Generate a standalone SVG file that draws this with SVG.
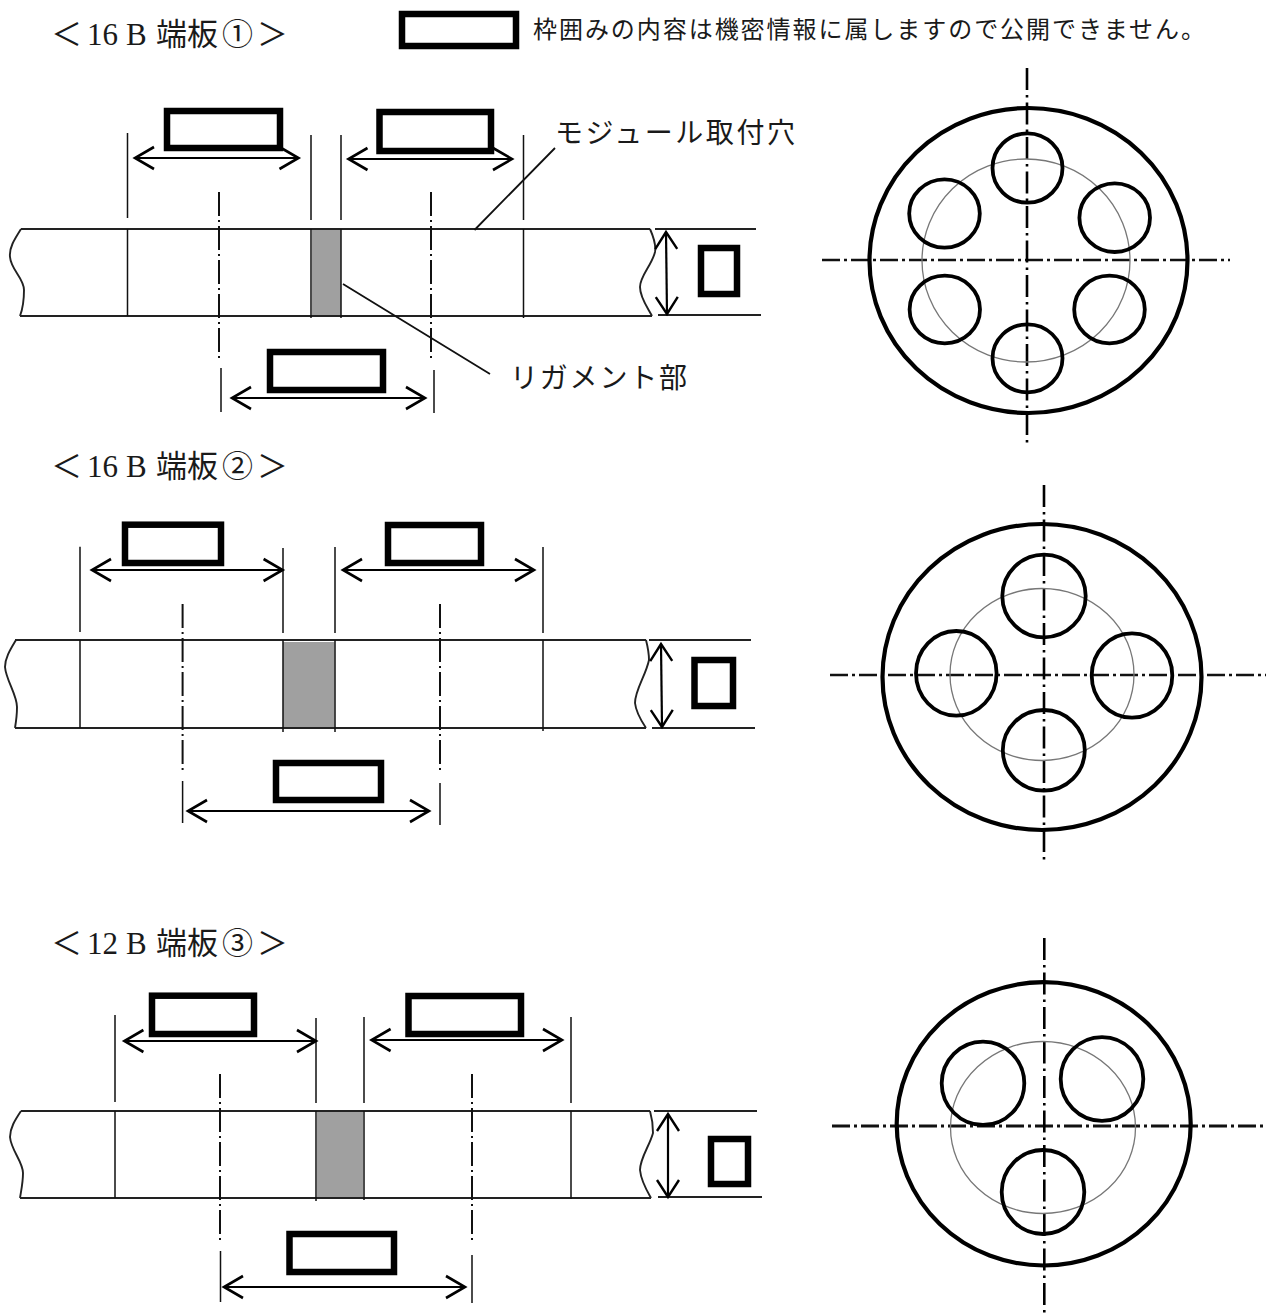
<svg xmlns="http://www.w3.org/2000/svg" width="1281" height="1314" viewBox="0 0 1281 1314">
<style>
.t{font-family:"Liberation Serif","Noto Sans CJK JP",serif;fill:#1a1a1a}
.title{font-size:31px}
.label{font-size:28px;font-family:"Noto Sans CJK JP",sans-serif;font-weight:400;fill:#1a1a1a}
.legend{font-size:24px;font-family:"Noto Sans CJK JP",sans-serif;font-weight:400;fill:#1a1a1a}
.box{fill:#fff;stroke:#000;stroke-width:6.500}
.thin{fill:none;stroke:#111;stroke-width:1.500}
.board{fill:none;stroke:#222;stroke-width:1.900}
.cut{fill:#a0a0a0;stroke:none}
.cl{fill:none;stroke:#111;stroke-width:2;stroke-dasharray:24 4 2 4}
.clv{fill:none;stroke:#000;stroke-width:2.600;stroke-dasharray:22 5 2.500 5}
.clh{fill:none;stroke:#111;stroke-width:2.600;stroke-dasharray:18 4 3 4}
.outer{fill:none;stroke:#000;stroke-width:4.200}
.hole{fill:none;stroke:#000;stroke-width:3.800}
.pcd{fill:none;stroke:#777;stroke-width:1.300}
.dim{fill:none;stroke:#000;stroke-width:2.200;marker-start:url(#ah);marker-end:url(#ah)}
.vdim{fill:none;stroke:#000;stroke-width:2.200;marker-start:url(#av);marker-end:url(#av)}
.leader{fill:none;stroke:#111;stroke-width:1.800}
</style>
<defs>
<marker id="ah" markerUnits="userSpaceOnUse" markerWidth="44" markerHeight="44" refX="22" refY="22" orient="auto-start-reverse" viewBox="0 0 44 44"><path d="M3,11L22,22L3,33" fill="none" stroke="#000" stroke-width="2.600"/></marker>
<marker id="av" markerUnits="userSpaceOnUse" markerWidth="44" markerHeight="44" refX="22" refY="22" orient="auto-start-reverse" viewBox="0 0 44 44"><path d="M5,11L22,22L5,33" fill="none" stroke="#000" stroke-width="2.400"/></marker>
</defs>
<rect width="1281" height="1314" fill="#fff"/>

<g id="legend">
<rect class="box" x="402" y="14" width="114" height="32"/>
<text class="legend" x="533" y="38" textLength="672" lengthAdjust="spacing">枠囲みの内容は機密情報に属しますので公開できません。</text>
</g>

<g id="plate1-section">
<text class="t title" y="45"><tspan x="51">＜</tspan><tspan x="87">16</tspan><tspan x="126">B</tspan><tspan x="156">端板</tspan><tspan x="222">①</tspan><tspan x="257">＞</tspan></text>
<rect class="cut" x="312" y="229" width="29" height="87"/>
<path class="board" d="M21,229H650M20,316H652M655,229H756M658,315H761"/>
<path class="board" d="M21,229C14,240 9,248 10,257C11,270 24,278 24,290C24,300 23,308 20,316M650,229C654,238 656,246 655,252C652,265 640,276 640,287C640,298 648,308 652,316"/>
<path class="thin" d="M127.500,133V218M127.500,229V316M311,135V220M311,229V318M341,135V220M341,229V318M523.500,135V220M523.500,229V318M221,368V412M434,370V413"/>
<path class="cl" d="M219,192V358M431,192V358"/>
<rect class="box" x="167" y="111" width="113" height="37"/>
<rect class="box" x="379.500" y="112" width="111.500" height="39"/>
<rect class="box" x="270" y="352" width="113" height="38"/>
<rect class="box" x="701" y="248" width="36" height="46"/>
<text class="label" x="555" y="143" textLength="240" lengthAdjust="spacing">モジュール取付穴</text>
<text class="label" x="510" y="388" textLength="177" lengthAdjust="spacing">リガメント部</text>
</g>

<g id="plate1-front">
<path class="clh" d="M822,260H1230"/>
<path class="clv" d="M1027,68V447"/>
<ellipse class="outer" cx="1028.500" cy="260.500" rx="159" ry="152.500"/>
<ellipse class="pcd" cx="1026" cy="260.500" rx="104" ry="101.500"/>
<ellipse class="hole" cx="1027.500" cy="168" rx="35" ry="34.700"/>
<ellipse class="hole" cx="944.500" cy="213.500" rx="35.300" ry="34.200"/>
<ellipse class="hole" cx="1114.700" cy="217.700" rx="35.300" ry="34.300"/>
<ellipse class="hole" cx="944.800" cy="309.500" rx="35.200" ry="33.800"/>
<ellipse class="hole" cx="1109.500" cy="309.500" rx="35.300" ry="33.800"/>
<ellipse class="hole" cx="1027.500" cy="358.300" rx="35" ry="34"/>
</g>

<g id="plate2-section">
<text class="t title" y="477"><tspan x="51">＜</tspan><tspan x="87">16</tspan><tspan x="126">B</tspan><tspan x="156">端板</tspan><tspan x="222">②</tspan><tspan x="257">＞</tspan></text>
<rect class="cut" x="283" y="642" width="51.500" height="86"/>
<path class="board" d="M15,640H646M15,728H646M649,640H751M652,728H755"/>
<path class="board" d="M16,640C10,650 5,658 5,667C6,680 17,695 17,707C17,715 16,722 15,728M646,640C648,648 649,654 649,660C646,675 635,690 635,703C636,713 642,722 646,728"/>
<path class="thin" d="M80,546.700V632M80,640V728M283,548V633M283,640V732M335,547V633M335,640V732M543,547V633M543,640V731M182.600,781V823M440,783V825"/>
<path class="cl" d="M182.600,604V772M440,604V771"/>
<rect class="box" x="125" y="524.700" width="96" height="38.300"/>
<rect class="box" x="388" y="525" width="93" height="38"/>
<rect class="box" x="276" y="763" width="105" height="37"/>
<rect class="box" x="694.500" y="660" width="38.500" height="46"/>
</g>

<g id="plate2-front">
<path class="clh" d="M830,675H1266"/>
<path class="clv" d="M1044,485V864"/>
<ellipse class="outer" cx="1042" cy="677" rx="159.500" ry="153"/>
<ellipse class="pcd" cx="1042" cy="674.500" rx="92" ry="86"/>
<ellipse class="hole" cx="1044" cy="596" rx="41.700" ry="41.300"/>
<ellipse class="hole" cx="956.300" cy="673.300" rx="40.300" ry="42.300"/>
<ellipse class="hole" cx="1132" cy="675.500" rx="40.300" ry="42.200"/>
<ellipse class="hole" cx="1043.800" cy="750.300" rx="41" ry="40.300"/>
</g>

<g id="plate3-section">
<text class="t title" y="954"><tspan x="51">＜</tspan><tspan x="87">12</tspan><tspan x="126">B</tspan><tspan x="156">端板</tspan><tspan x="222">③</tspan><tspan x="257">＞</tspan></text>
<rect class="cut" x="317" y="1111" width="46" height="87"/>
<path class="board" d="M21,1111H650M20,1198H651M654,1111H757M658,1197H762"/>
<path class="board" d="M21,1111C15,1120 10,1128 10,1137C11,1150 23,1162 23,1173C23,1183 21,1191 20,1198M650,1111C652,1118 653,1126 653,1133C650,1145 640,1158 640,1170C641,1181 647,1191 651,1198"/>
<path class="thin" d="M115,1015V1102M115,1111V1198M316,1018V1103M316,1111V1201M364,1017V1103M364,1111V1200M571,1017V1103M571,1111V1199M220.500,1251V1302M472,1255V1303"/>
<path class="cl" d="M220,1074V1242M472,1074V1242"/>
<rect class="box" x="152" y="995.700" width="102" height="38.300"/>
<rect class="box" x="408.500" y="996" width="112.500" height="38"/>
<rect class="box" x="289.500" y="1234" width="104.500" height="38"/>
<rect class="box" x="711" y="1139" width="37" height="45"/>
</g>

<g id="plate3-front">
<path class="clh" d="M832,1126H1267" style="stroke-width:3"/>
<path class="clv" d="M1044.300,938V1314"/>
<ellipse class="outer" cx="1043.700" cy="1123.800" rx="147" ry="141.700"/>
<ellipse class="pcd" cx="1043" cy="1127.500" rx="92.500" ry="86"/>
<ellipse class="hole" cx="983" cy="1083.300" rx="41.300" ry="41.700"/>
<ellipse class="hole" cx="1102" cy="1079" rx="41.300" ry="41.800"/>
<ellipse class="hole" cx="1043" cy="1192" rx="41.300" ry="42"/>
</g>

<g id="connectors">
<path class="leader" d="M474.500,230L555,148M343,284L490,374"/>
<path class="dim" d="M135,158H298.500"/>
<path class="dim" d="M348.500,159H512"/>
<path class="dim" d="M232,398H425"/>
<path class="vdim" d="M666,232L667,314"/>
<path class="dim" d="M92,570H282.600"/>
<path class="dim" d="M343,570H534"/>
<path class="dim" d="M188,811H429"/>
<path class="vdim" d="M661,644L662,727"/>
<path class="dim" d="M124.400,1041H316"/>
<path class="dim" d="M371.600,1040H562"/>
<path class="dim" d="M224,1287H465"/>
<path class="vdim" d="M668,1114V1197"/>
</g>
</svg>
